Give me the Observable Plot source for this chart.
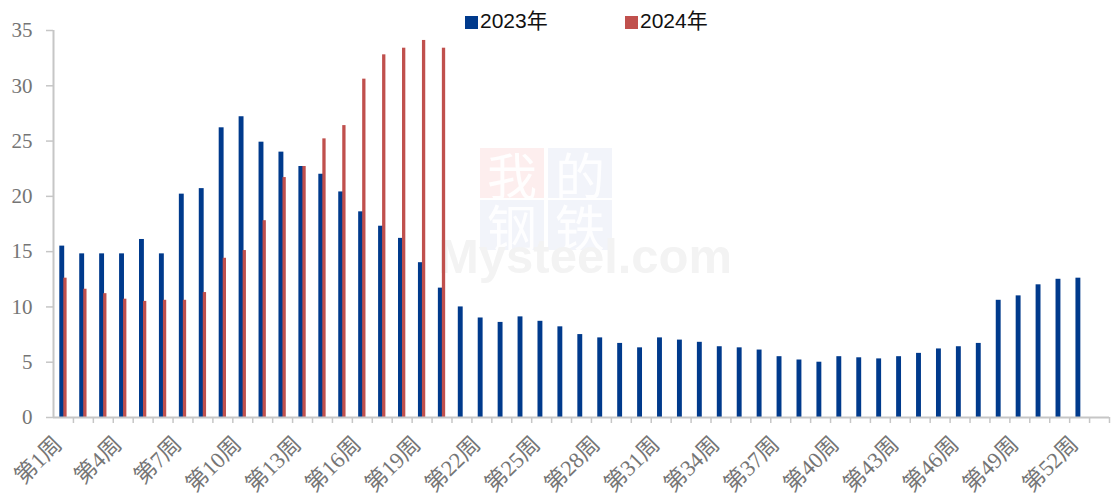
<!DOCTYPE html>
<html>
<head>
<meta charset="utf-8">
<script src="https://cdn.jsdelivr.net/npm/d3@7"></script>
<script src="https://cdn.jsdelivr.net/npm/@observablehq/plot@0.6"></script>
<style>
  html, body { margin: 0; padding: 0; background: #fff; }
  #wrap { position: relative; width: 1112px; height: 502px; overflow: hidden; }
  #wrap svg { position: absolute; left: 0; top: 0; }
  .leg { position: absolute; top: 7px; font-family: "Liberation Sans", Arial, "Noto Sans CJK SC", sans-serif; font-size: 21px; color: #111; line-height: 28px; white-space: nowrap; }
  .leg i { display: inline-block; width: 13px; height: 13px; margin-right: 2px; vertical-align: -1px; }
  .wm { position: absolute; font-family: "Noto Sans CJK SC", sans-serif; }
  .wmbox { position: absolute; width: 64px; height: 50px; font-size: 50px; line-height: 50px; text-align: center; color: rgba(255,255,255,0.9); font-family: "Noto Sans CJK SC", serif; }
</style>
</head>
<body>
<div id="wrap">
  <div class="wmbox" style="left:480px;top:148px;background:#fdeeee;">我</div>
  <div class="wmbox" style="left:548px;top:148px;background:#f2f4fa;">的</div>
  <div class="wmbox" style="left:480px;top:200px;background:#f2f4fa;">钢</div>
  <div class="wmbox" style="left:548px;top:200px;background:#f2f4fa;">铁</div>
  <div class="wm" style="left:438px;top:228px;font-family:'Liberation Sans',Arial,sans-serif;font-weight:bold;font-size:49px;color:#f3f3f3;">Mysteel.com</div>
  <div id="chart"></div>
  <div class="leg" style="left:465px;"><i style="background:#003A8C"></i>2023年</div>
  <div class="leg" style="left:625px;"><i style="background:#C0504D"></i>2024年</div>
</div>
<script>
// ---- data ----
const weeks = d3.range(1, 54).map(i => `第${i}周`);
const weekLabels = ["第1周","第4周","第7周","第10周","第13周","第16周","第19周","第22周","第25周","第28周","第31周","第34周","第37周","第40周","第43周","第46周","第49周","第52周"];
const v2023 = [15.5,14.8,14.8,14.8,16.1,14.8,20.2,20.7,26.2,27.2,
               24.9,24.0,22.7,22.0,20.4,18.6,17.3,16.2,14.0,11.7,
               10.0,9.0,8.6,9.1,8.7,8.2,7.5,7.2,6.7,6.3,
               7.2,7.0,6.8,6.4,6.3,6.1,5.5,5.2,5.0,5.5,
               5.4,5.3,5.5,5.8,6.2,6.4,6.7,10.6,11.0,12.0,
               12.5,12.6];
const v2024 = [12.6,11.6,11.2,10.7,10.5,10.6,10.6,11.3,14.4,15.1,
               17.8,21.7,22.7,25.2,26.4,30.6,32.8,33.4,34.1,33.4];
const yTicks = [0,5,10,15,20,25,30,35];

const d2023 = v2023.map((v, i) => ({week: weeks[i], value: v}));
const d2024 = v2024.map((v, i) => ({week: weeks[i], value: v}));

// ---- layout ----
const W = 1112, H = 502, mL = 53, mR = 3, mT = 30, mB = 85;
const bw = (W - mL - mR) / weeks.length;
const axisColor = "#c6c6c6";
const labelColor = "#757575";
const serif = "'Liberation Serif', 'Times New Roman', 'Noto Sans CJK SC', serif";

const chart = Plot.plot({
  width: W, height: H,
  marginLeft: mL, marginRight: mR, marginTop: mT, marginBottom: mB,
  x: {domain: weeks, padding: 0, axis: null},
  y: {domain: [0, 35], axis: null, label: null},
  style: {background: "transparent", overflow: "visible"},
  marks: [
    Plot.barY(d2023, {x: "week", y: "value", fill: "#003A8C", insetLeft: 6.3, insetRight: bw - 11.2}),
    Plot.barY(d2024, {x: "week", y: "value", fill: "#C0504D", insetLeft: 10.3, insetRight: bw - 13.6}),
    Plot.axisY({ticks: yTicks, tickSize: 7, tickPadding: 14, stroke: axisColor, strokeWidth: 1.5, label: null,
                fill: labelColor, fontSize: 21, fontFamily: serif, tickFormat: d => d}),
    Plot.ruleY([0], {stroke: axisColor, strokeWidth: 2}),
    Plot.ruleX([weeks[0]], {dx: -bw / 2, y1: 0, y2: 35, stroke: axisColor, strokeWidth: 2}),
    Plot.ruleX(weeks, {x: d => d, dx: bw / 2, insetTop: H - mT - mB, insetBottom: -6, stroke: axisColor, strokeWidth: 1.5}),
    Plot.text(weekLabels, {x: d => d, frameAnchor: "bottom", dy: 28, rotate: -45, textAnchor: "end",
                           fill: labelColor, fontSize: 22.5, fontFamily: serif})
  ]
});
document.getElementById("chart").appendChild(chart);
</script>
</body>
</html>
